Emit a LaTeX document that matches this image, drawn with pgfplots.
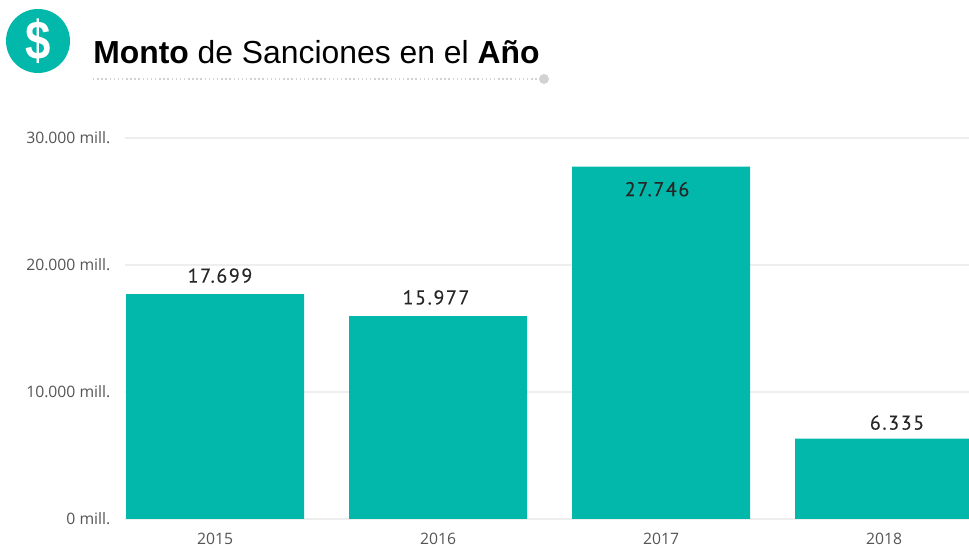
\documentclass[border=0pt]{standalone}
\usepackage{pgfplots}
\pgfplotsset{compat=1.18}
\usepackage{fontspec}
\setmainfont{Liberation Sans}
\newfontfamily\tickfont{Open Sans}
\newfontfamily\labelfont[LetterSpace=8,FakeBold=0.15]{PT Sans}
\definecolor{teal1}{HTML}{01B8AA}
\definecolor{gridc}{HTML}{EEEEEE}
\definecolor{tickc}{HTML}{555555}
\definecolor{dotc}{HTML}{D2D2D2}
\begin{document}
\begin{tikzpicture}[x=0.75pt,y=0.75pt]
    % page frame, y counted from the bottom in reference pixels
    \path[use as bounding box] (0,0) rectangle (969,548);
    \begin{axis}[
            at={(125*0.75pt,29*0.75pt)},
            anchor=south west,
            scale only axis,
            width=633pt,
            height=285.75pt,
            ybar,
            bar width=133.5pt,
            bar shift=0pt,
            xmin=-0.4036, xmax=3.381,
            ymin=0, ymax=30000,
            xtick=data,
            xticklabels={2015,2016,2017,2018},
            ytick={0,10000,20000,30000},
            yticklabels={0 mill.,10.000 mill.,20.000 mill.,30.000 mill.},
            scaled y ticks=false,
            ymajorgrids=true,
            grid style={gridc, line width=1.2pt},
            axis line style={draw=none},
            major tick length=0pt,
            tick label style={font=\tickfont\fontsize{11.8}{13}\selectfont, text=tickc},
            yticklabel style={anchor=east, xshift=-7.5pt, yshift=0.4pt},
            xticklabel style={anchor=north, yshift=-7pt},
            nodes near coords,
            point meta=y,
            every node near coord/.append style={
                    font=\labelfont\fontsize{15}{17}\selectfont,
                    text=black!85,
                    yshift=5pt,
                    /pgf/number format/.cd, fixed, precision=0, 1000 sep={.}, assume math mode=true,
                },
            % labels do not sit on the bar centres in the reference
            coordinate style/.condition={x==0}{xshift=3.75pt},
            coordinate style/.condition={x==1}{xshift=-1.5pt},
            coordinate style/.condition={x==2}{xshift=-3pt, anchor=north, yshift=-13pt},
            coordinate style/.condition={x==3}{xshift=9.75pt, yshift=-2pt},
        ]
        \addplot[fill=teal1, draw=none] coordinates {
                (0, 17699) (1, 15977) (2, 27746) (3, 6335)
            };
    \end{axis}

    % logo
    \fill[teal1] (38,507) circle (32);
    \node[text=white, font=\bfseries\fontsize{38}{40}\selectfont, xscale=0.9, yscale=1.08] at (38,507) {\$};

    % title
    \node[anchor=base west, inner sep=0pt, text=black, font=\fontsize{23.9}{28}\selectfont] at (93,484)
        {\textbf{Monto} de Sanciones en el \textbf{Año}};
    \draw[dotc, line width=1.1pt, dash pattern=on 1.1pt off 2pt] (93,469) -- (540,469);
    \fill[dotc] (544,469) circle (5);
\end{tikzpicture}
\end{document}
